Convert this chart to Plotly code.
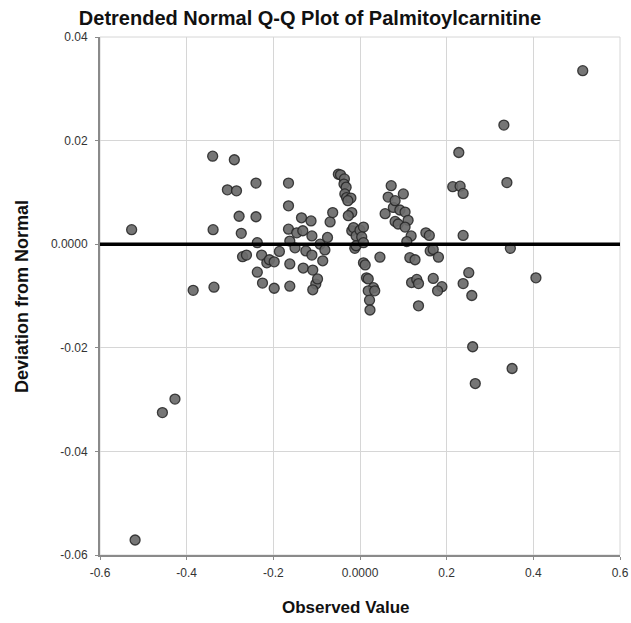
import plotly.graph_objects as go

observed = [
    -0.519, -0.456, -0.427, -0.527, -0.385, -0.337, -0.340, -0.339, -0.290, -0.306,
    -0.285, -0.279, -0.274, -0.271, -0.262, -0.240, -0.240, -0.237, -0.237, -0.227,
    -0.225, -0.215, -0.209, -0.198, -0.198, -0.186, -0.165, -0.165, -0.165, -0.162,
    -0.162, -0.162, -0.150, -0.146, -0.135, -0.132, -0.131, -0.125, -0.113, -0.111,
    -0.111, -0.109, -0.102, -0.098, -0.109, -0.092, -0.086, -0.081, -0.075, -0.069,
    -0.063, -0.050, -0.045, -0.036, -0.037, -0.032, -0.035, -0.031, -0.021, -0.028,
    -0.019, -0.027, -0.019, -0.015, -0.009, -0.012, -0.009, 0.000, 0.008, 0.004,
    0.008, 0.008, 0.012, 0.015, 0.019, 0.031, 0.019, 0.034, 0.022, 0.023,
    0.046, 0.058, 0.065, 0.072, 0.077, 0.081, 0.092, 0.100, 0.104, 0.081,
    0.088, 0.111, 0.104, 0.118, 0.108, 0.115, 0.127, 0.119, 0.131, 0.135,
    0.135, 0.152, 0.160, 0.162, 0.169, 0.181, 0.169, 0.189, 0.179, 0.214,
    0.231, 0.238, 0.228, 0.238, 0.238, 0.251, 0.258, 0.260, 0.266, 0.332,
    0.339, 0.347, 0.351, 0.406, 0.514,
]
deviation = [
    -0.0571, -0.0325, -0.0299, 0.0028, -0.0089, -0.0083, 0.0170, 0.0028, 0.0163, 0.0105,
    0.0103, 0.0054, 0.0021, -0.0024, -0.0021, 0.0118, 0.0053, 0.0003, -0.0054, -0.0021,
    -0.0075, -0.0036, -0.0030, -0.0034, -0.0085, -0.0014, 0.0118, 0.0074, 0.0029, 0.0006,
    -0.0038, -0.0081, -0.0007, 0.0022, 0.0051, 0.0026, -0.0046, -0.0013, 0.0045, 0.0016,
    -0.0021, -0.0050, -0.0077, -0.0067, -0.0088, 0.0000, -0.0032, -0.0011, 0.0013, 0.0043,
    0.0061, 0.0135, 0.0134, 0.0126, 0.0116, 0.0110, 0.0097, 0.0090, 0.0089, 0.0084,
    0.0061, 0.0055, 0.0026, 0.0032, 0.0016, -0.0008, -0.0003, 0.0027, 0.0033, 0.0014,
    0.0003, -0.0036, -0.0040, -0.0065, -0.0067, -0.0084, -0.0090, -0.0090, -0.0108, -0.0127,
    -0.0025, 0.0059, 0.0091, 0.0113, 0.0071, 0.0084, 0.0066, 0.0097, 0.0062, 0.0044,
    0.0039, 0.0046, 0.0033, 0.0016, 0.0005, -0.0026, -0.0030, -0.0074, -0.0068, -0.0076,
    -0.0119, 0.0022, 0.0017, -0.0013, -0.0010, -0.0025, -0.0066, -0.0082, -0.0090, 0.0111,
    0.0112, 0.0098, 0.0177, 0.0017, -0.0076, -0.0055, -0.0099, -0.0198, -0.0269, 0.0230,
    0.0119, -0.0008, -0.0240, -0.0065, 0.0335,
]

x_tickvals = [-0.6, -0.4, -0.2, 0.0, 0.2, 0.4, 0.6]
x_ticktext = ["-0.6", "-0.4", "-0.2", "0.0000", "0.2", "0.4", "0.6"]
y_tickvals = [0.04, 0.02, 0.0, -0.02, -0.04, -0.06]
y_ticktext = ["0.04", "0.02", "0.0000", "-0.02", "-0.04", "-0.06"]
reference_y = 0.0

FONT = "Liberation Sans, Arial, sans-serif"
W, H = 631, 623
L, R, T, B = 100, 11, 37, 68
PW, PH = W - L - R, H - T - B


def px_x(page_x):
    return (page_x - L) / PW


def px_y(page_y):
    return 1 - (page_y - T) / PH


fig = go.Figure()
fig.add_trace(go.Scatter(
    x=observed, y=deviation, mode="markers",
    marker=dict(size=10, color="rgba(106,106,106,0.92)",
                line=dict(color="rgba(35,35,35,0.85)", width=1.3)),
    showlegend=False, hoverinfo="x+y",
))
fig.add_shape(type="line", xref="paper", yref="y", x0=0, x1=1,
              y0=reference_y, y1=reference_y,
              line=dict(color="black", width=3.5), layer="above")

fig.update_layout(
    width=W, height=H,
    margin=dict(l=L, r=R, t=T, b=B, autoexpand=False),
    paper_bgcolor="white", plot_bgcolor="white",
    font=dict(family=FONT, color="#222"),
    title=dict(text="<b>Detrended Normal Q-Q Plot of Palmitoylcarnitine</b>",
               x=310 / W, xanchor="center", xref="container",
               y=1 - 18 / H, yanchor="middle", yref="container",
               font=dict(size=20, color="#111", family=FONT)),
)
fig.update_xaxes(
    range=[-0.6, 0.6], tickvals=x_tickvals, ticktext=x_ticktext,
    showgrid=True, gridcolor="#d6d6d6", gridwidth=1,
    showline=True, linecolor="#8a8a8a", linewidth=2, mirror=False,
    ticks="outside", ticklen=3, tickcolor="#8a8a8a", ticklabelstandoff=3,
    tickfont=dict(size=12, color="#333"), zeroline=False, automargin=False,
)
fig.update_yaxes(
    range=[-0.06, 0.04], tickvals=y_tickvals, ticktext=y_ticktext,
    showgrid=True, gridcolor="#d6d6d6", gridwidth=1,
    showline=True, linecolor="#8a8a8a", linewidth=2, mirror=False,
    ticks="outside", ticklen=3, tickcolor="#8a8a8a", ticklabelstandoff=5,
    tickfont=dict(size=12, color="#333"), zeroline=False, automargin=False,
)

# axis titles placed as annotations (pixel-matched to the reference)
fig.add_annotation(text="<b>Observed Value</b>", xref="paper", yref="paper",
                   x=px_x(346), y=px_y(607),
                   xanchor="center", yanchor="middle", showarrow=False,
                   font=dict(size=17, color="#111", family=FONT))
fig.add_annotation(text="<b>Deviation from Normal</b>", xref="paper", yref="paper",
                   x=px_x(22), y=px_y(297),
                   xanchor="center", yanchor="middle", showarrow=False, textangle=-90,
                   font=dict(size=18, color="#111", family=FONT))

# light frame on top/right like the reference
fig.add_shape(type="rect", xref="paper", yref="paper", x0=0, x1=1, y0=0, y1=1,
              line=dict(color="#d6d6d6", width=1), layer="below")

fig.write_html(
    "out.html",
    config={"displayModeBar": False},
    post_script="document.body.style.margin='0';document.body.style.overflow='hidden';",
)
